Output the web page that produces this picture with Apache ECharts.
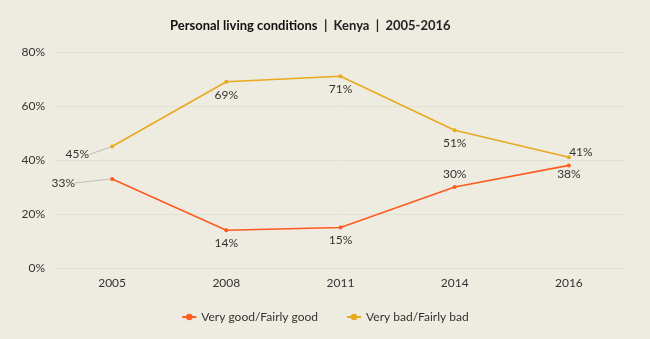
<!DOCTYPE html>
<html><head><meta charset="utf-8">
<script src="https://cdn.jsdelivr.net/npm/echarts@6/dist/echarts.min.js"></script>
<style>html,body{margin:0;padding:0;background:#EEEBE1;}#c{width:650px;height:339px;}</style>
</head><body><div id="c"></div>
<script>
const years = ['2005','2008','2011','2014','2016'];
const good = [33,14,15,30,38];
const bad = [45,69,71,51,41];
const yTicks = [0,20,40,60,80];

const FONT = 'Lato, "Noto Sans", sans-serif';
const chart = echarts.init(document.getElementById('c'));
function lbl(pos){ return {show:true, position:pos, formatter:'{c}%', color:'#333', fontSize:12, fontFamily:FONT}; }
const goodPos = ['left','bottom','bottom','top','bottom'];
const badPos = ['left','bottom','bottom','bottom','top'];
function mk(vals, pos){
  return vals.map((v,i)=>{
    const it = {value:v, label:lbl(pos[i])};
    it.labelLine = {show: i===0, lineStyle:{color:'#BDBDBD',width:1}};
    return it;
  });
}
chart.setOption({
  backgroundColor:'#EEEBE1',
  animation:false,
  title:{
    text:'{b|Personal living conditions}{n|  |  Kenya  |  2005-2016}',
    left:165, top:14,
    textStyle:{rich:{b:{fontWeight:'bold',fontSize:13,color:'#111',fontFamily:FONT},n:{fontSize:13,color:'#222',fontFamily:FONT}}}
  },
  grid:{left:55,right:24,top:52,bottom:71},
  legend:{
    bottom:11, left:'center', itemGap:28, itemWidth:14, itemHeight:8,
    textStyle:{color:'#333',fontSize:12,fontFamily:FONT},
    data:['Very good/Fairly good','Very bad/Fairly bad']
  },
  xAxis:{
    type:'category', data:years, boundaryGap:true,
    axisLine:{show:false}, axisTick:{show:false},
    axisLabel:{color:'#333',fontSize:12,fontFamily:FONT,margin:9}
  },
  yAxis:{
    type:'value', min:0, max:80, interval:20,
    axisLabel:{formatter:v=>v+'%',color:'#333',fontSize:12,fontFamily:FONT,margin:10},
    splitLine:{lineStyle:{color:'#E2DFD3',width:1}},
    axisLine:{show:false}, axisTick:{show:false}
  },
  series:[
    {name:'Very good/Fairly good', type:'line', data:mk(good,goodPos),
     color:'#FF5B1F', lineStyle:{width:1.6,color:'#FF5B1F'}, symbol:'circle', symbolSize:4,
     labelLayout:function(p){ if(p.dataIndex===0) return {dx:-30,dy:4}; if(p.dataIndex===4) return {dy:-4}; return {}; }
    },
    {name:'Very bad/Fairly bad', type:'line', data:mk(bad,badPos),
     color:'#E9A91F', lineStyle:{width:1.6,color:'#E9A91F'}, symbol:'circle', symbolSize:4,
     labelLayout:function(p){ if(p.dataIndex===0) return {dx:-16,dy:8}; if(p.dataIndex===4) return {dx:12,dy:8}; return {}; }
    }
  ]
});
</script></body></html>
